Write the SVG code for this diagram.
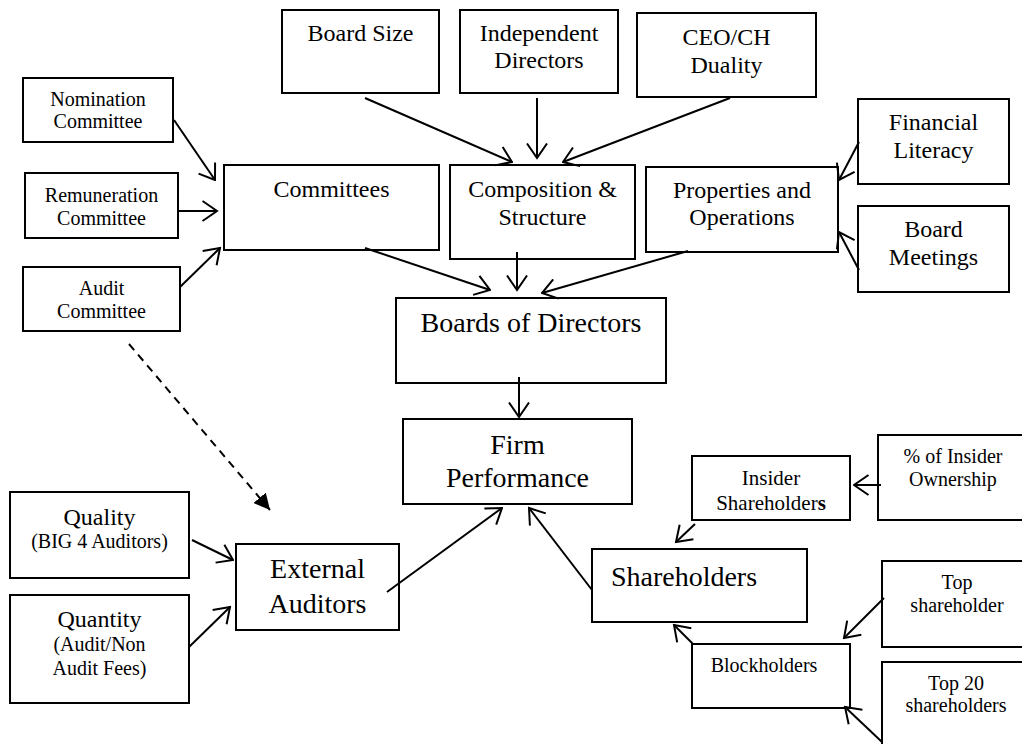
<svg xmlns="http://www.w3.org/2000/svg" width="1022" height="744" viewBox="0 0 1022 744">
<defs>
<style>
rect{fill:#fff;stroke:#000;stroke-width:2}
text{font-family:"Liberation Serif","Times New Roman",serif;fill:#000;text-anchor:middle}
.s20{font-size:20px}.s21{font-size:21px}.s24{font-size:24px}.s28{font-size:28px}
.c line{stroke:#000;stroke-width:2;marker-end:url(#v)}
.c line.d{stroke-dasharray:8 6;marker-end:url(#tri)}
</style>
<marker id="v" viewBox="0 0 17 22" refX="15.5" refY="11" markerWidth="17" markerHeight="22" markerUnits="userSpaceOnUse" orient="auto">
<path d="M1,1 L15.5,11 L1,21" fill="none" stroke="#000" stroke-width="2"/>
</marker>
<marker id="tri" viewBox="0 0 16 16" refX="16" refY="8" markerWidth="16" markerHeight="16" markerUnits="userSpaceOnUse" orient="auto">
<path d="M0,0 L16,8 L0,16 Z" fill="#000"/>
</marker>
</defs>
<rect x="0" y="0" width="1022" height="744" style="fill:#fff;stroke:none"/>
<g id="board-size"><rect x="282" y="10" width="157" height="83"/><text class="s24" x="360.5" y="41">Board Size</text></g>
<g id="independent-directors"><rect x="460" y="10" width="158" height="83"/><text class="s24" x="539" y="41">Independent</text><text class="s24" x="539" y="68">Directors</text></g>
<g id="ceo-duality"><rect x="637" y="13" width="179" height="84"/><text class="s24" x="726.5" y="45">CEO/CH</text><text class="s24" x="726.5" y="73">Duality</text></g>
<g id="nomination"><rect x="23" y="78" width="150" height="64"/><text class="s20" x="98" y="106">Nomination</text><text class="s20" x="98" y="128">Committee</text></g>
<g id="remuneration"><rect x="25" y="173" width="153" height="65"/><text class="s20" x="101.5" y="202">Remuneration</text><text class="s20" x="101.5" y="225">Committee</text></g>
<g id="audit-committee"><rect x="23" y="267" width="157" height="64"/><text class="s20" x="101.5" y="295">Audit</text><text class="s20" x="101.5" y="318">Committee</text></g>
<g id="committees"><rect x="224" y="165" width="215" height="85"/><text class="s24" x="331.5" y="197">Committees</text></g>
<g id="composition"><rect x="450" y="165" width="185" height="94"/><text class="s24" x="542.5" y="197">Composition &amp;</text><text class="s24" x="542.5" y="225">Structure</text></g>
<g id="properties"><rect x="646" y="167" width="192" height="85"/><text class="s24" x="742" y="198">Properties and</text><text class="s24" x="742" y="225">Operations</text></g>
<g id="financial-literacy"><rect x="858" y="99" width="151" height="85"/><text class="s24" x="933.5" y="130">Financial</text><text class="s24" x="933.5" y="158">Literacy</text></g>
<g id="board-meetings"><rect x="858" y="206" width="151" height="86"/><text class="s24" x="933.5" y="237">Board</text><text class="s24" x="933.5" y="265">Meetings</text></g>
<g id="boards-of-directors"><rect x="396" y="298" width="270" height="85"/><text class="s28" x="531" y="332">Boards of Directors</text></g>
<g id="firm-performance"><rect x="403" y="419" width="229" height="85"/><text class="s28" x="517.5" y="454">Firm</text><text class="s28" x="517.5" y="487">Performance</text></g>
<g id="external-auditors"><rect x="236" y="544" width="163" height="86"/><text class="s28" x="317.5" y="578">External</text><text class="s28" x="317.5" y="613">Auditors</text></g>
<g id="quality"><rect x="10" y="492" width="179" height="86"/><text class="s24" x="99.5" y="525">Quality</text><text class="s20" x="99.5" y="548">(BIG 4 Auditors)</text></g>
<g id="quantity"><rect x="10" y="595" width="179" height="108"/><text class="s24" x="99.5" y="627">Quantity</text><text class="s20" x="99.5" y="651">(Audit/Non</text><text class="s20" x="99.5" y="675">Audit Fees)</text></g>
<g id="shareholders"><rect x="592" y="549" width="215" height="73"/><text class="s28" x="684" y="586">Shareholders</text></g>
<g id="insider-shareholders"><rect x="692" y="456" width="158" height="64"/><text class="s21" x="771" y="485">Insider</text><text class="s21" x="771" y="510">Shareholder<tspan font-weight="bold">s</tspan></text></g>
<g id="insider-ownership"><rect x="878" y="435" width="160" height="85"/><text class="s20" x="953" y="463">% of Insider</text><text class="s20" x="953" y="486">Ownership</text></g>
<g id="top-shareholder"><rect x="882" y="561" width="160" height="86"/><text class="s20" x="957" y="589">Top</text><text class="s20" x="957" y="612">shareholder</text></g>
<g id="blockholders"><rect x="692" y="644" width="158" height="64"/><text class="s20" x="764" y="672">Blockholders</text></g>
<g id="top20"><rect x="882" y="662" width="160" height="100"/><text class="s20" x="956" y="690">Top 20</text><text class="s20" x="956" y="712">shareholders</text></g>
<g id="connectors" class="c">
<line x1="174" y1="120" x2="215" y2="180"/>
<line x1="178" y1="211" x2="217" y2="211"/>
<line x1="180" y1="287" x2="220" y2="248"/>
<line x1="365" y1="98" x2="512" y2="162"/>
<line x1="537" y1="98" x2="537" y2="158"/>
<line x1="730" y1="98" x2="563" y2="162"/>
<line x1="365" y1="248" x2="490" y2="290"/>
<line x1="517" y1="252" x2="517" y2="290"/>
<line x1="688" y1="251" x2="542" y2="293"/>
<line x1="859" y1="142" x2="839" y2="180"/>
<line x1="859" y1="270" x2="839" y2="232"/>
<line x1="519" y1="377" x2="519" y2="417"/>
<line x1="387" y1="592" x2="502" y2="508"/>
<line x1="592" y1="590" x2="529" y2="508"/>
<line x1="192" y1="540" x2="233" y2="560"/>
<line x1="189" y1="647" x2="230" y2="607"/>
<line class="d" x1="129" y1="344" x2="270" y2="510"/>
<line x1="881" y1="485" x2="854" y2="485"/>
<line x1="695" y1="524" x2="676" y2="542"/>
<line x1="693" y1="644" x2="674" y2="625"/>
<line x1="884" y1="598" x2="844" y2="638"/>
<line x1="882" y1="742" x2="845" y2="707"/>
</g>
</svg>
